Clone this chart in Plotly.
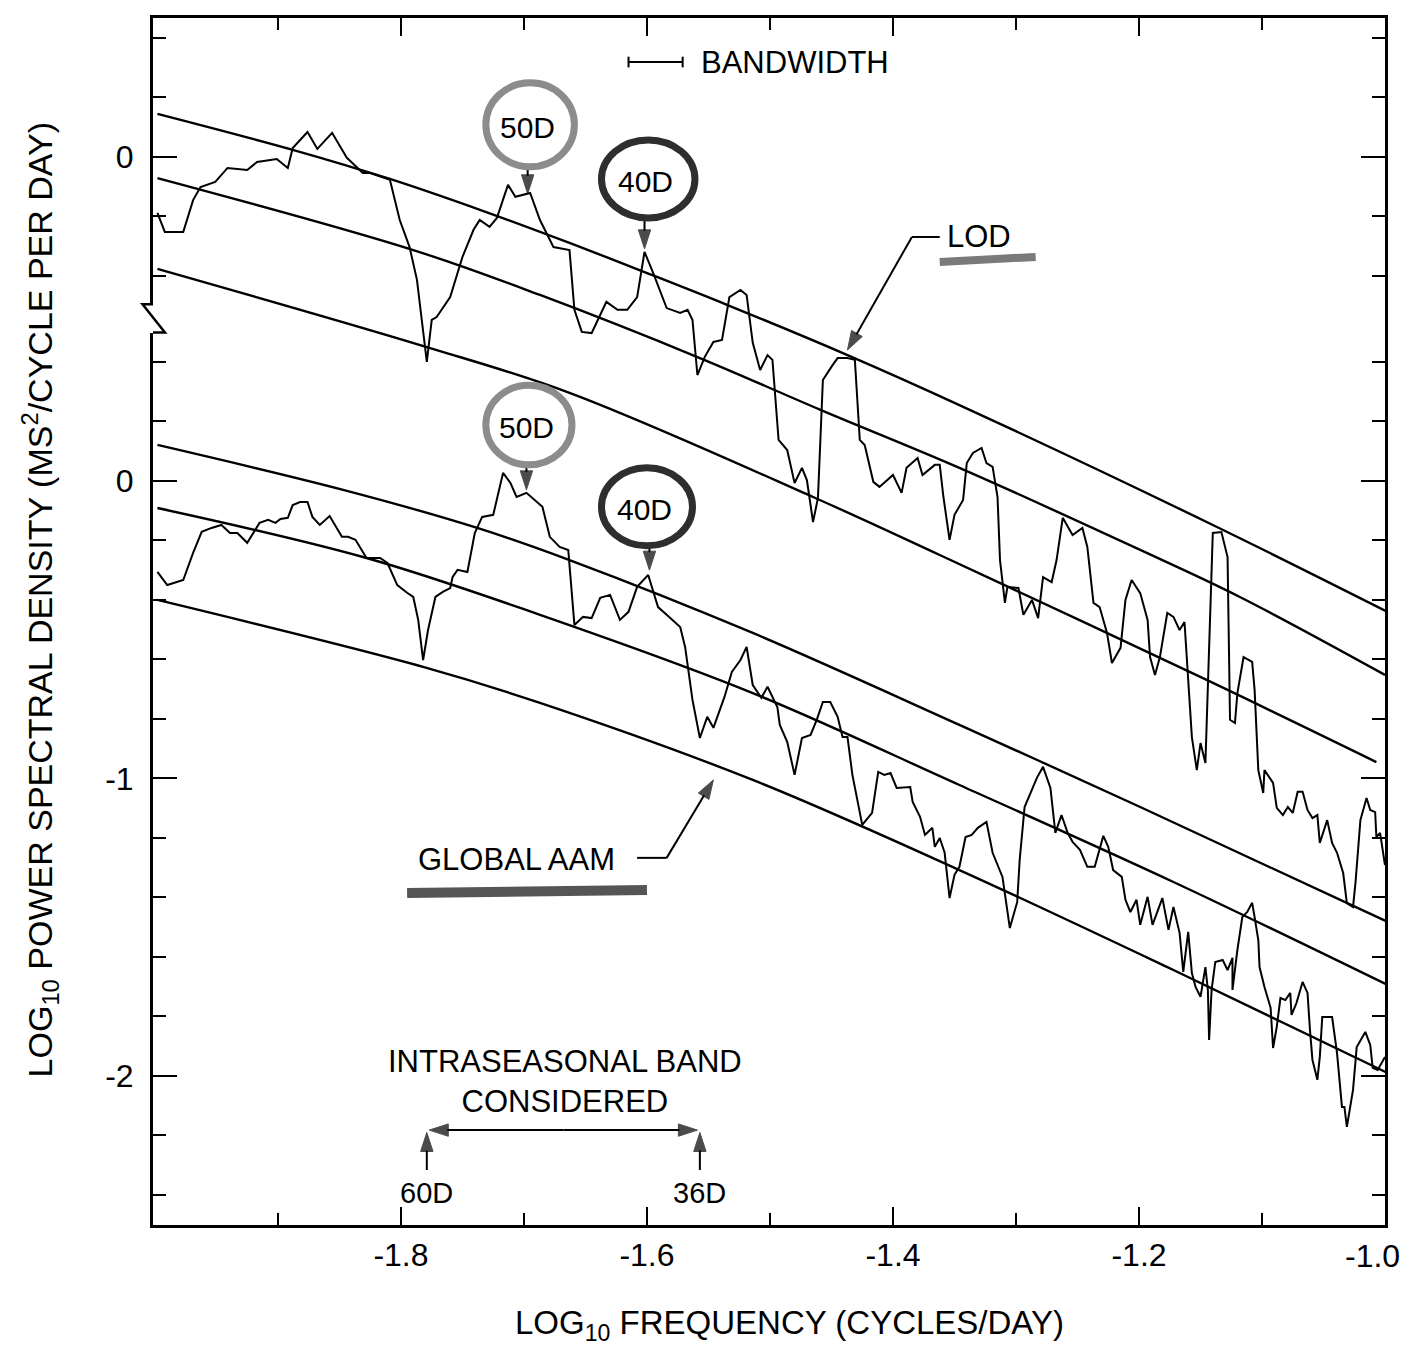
import plotly.graph_objects as go

# vertical offset of the upper (LOD) panel, expressed in lower-axis (AAM) units
LOD_OFFSET = 1.089

# ---------------- LOD spectrum (upper panel, its own log10 units) ----------------
LOD_FREQ = [-1.998, -1.992, -1.977, -1.969, -1.963, -1.951, -1.941, -1.925, -1.917, -1.901,
            -1.892, -1.888, -1.876, -1.868, -1.856, -1.844, -1.831, -1.825, -1.809, -1.801,
            -1.793, -1.787, -1.779, -1.775, -1.771, -1.760, -1.750, -1.741, -1.736, -1.728,
            -1.722, -1.713, -1.707, -1.695, -1.687, -1.679, -1.676, -1.663, -1.659, -1.653,
            -1.645, -1.640, -1.633, -1.624, -1.616, -1.608, -1.602, -1.595, -1.584, -1.573,
            -1.567, -1.563, -1.559, -1.553, -1.546, -1.539, -1.533, -1.524, -1.519, -1.514,
            -1.508, -1.502, -1.498, -1.493, -1.486, -1.480, -1.474, -1.470, -1.465, -1.461,
            -1.457, -1.449, -1.445, -1.437, -1.431, -1.427, -1.423, -1.416, -1.411, -1.400,
            -1.393, -1.389, -1.380, -1.376, -1.366, -1.362, -1.359, -1.354, -1.350, -1.343,
            -1.340, -1.335, -1.328, -1.324, -1.319, -1.315, -1.313, -1.309, -1.307, -1.298,
            -1.294, -1.287, -1.282, -1.278, -1.271, -1.267, -1.262, -1.254, -1.246, -1.242,
            -1.237, -1.232, -1.226, -1.222, -1.215, -1.211, -1.206, -1.199, -1.193, -1.191,
            -1.187, -1.183, -1.177, -1.172, -1.167, -1.163, -1.160, -1.157, -1.153, -1.150,
            -1.146, -1.142, -1.140, -1.133, -1.128, -1.126, -1.122, -1.120, -1.115, -1.108,
            -1.106, -1.103, -1.099, -1.098, -1.091, -1.088, -1.083, -1.079, -1.075, -1.071,
            -1.067, -1.063, -1.059, -1.055, -1.053, -1.047, -1.043, -1.039, -1.034, -1.031,
            -1.026, -1.024, -1.020, -1.015, -1.012, -1.008, -1.007, -1.004, -1.000]
LOD_PSD = [-0.188, -0.252, -0.252, -0.145, -0.101, -0.084, -0.037, -0.044, -0.017, -0.007,
           -0.037, 0.030, 0.084, 0.027, 0.081, -0.003, -0.054, -0.054, -0.077, -0.212,
           -0.303, -0.413, -0.689, -0.548, -0.538, -0.471, -0.336, -0.245, -0.212, -0.235,
           -0.205, -0.094, -0.134, -0.121, -0.212, -0.279, -0.303, -0.313, -0.514, -0.588,
           -0.592, -0.548, -0.487, -0.514, -0.514, -0.471, -0.319, -0.390, -0.508, -0.524,
           -0.514, -0.548, -0.733, -0.672, -0.622, -0.615, -0.471, -0.447, -0.464, -0.625,
           -0.716, -0.666, -0.682, -0.951, -0.985, -1.096, -1.045, -1.086, -1.227, -1.146,
           -0.750, -0.699, -0.676, -0.676, -0.682, -0.951, -0.968, -1.092, -1.109, -1.069,
           -1.129, -1.045, -1.012, -1.069, -1.035, -1.035, -1.143, -1.287, -1.203, -1.153,
           -1.029, -0.995, -0.978, -1.029, -1.042, -1.143, -1.355, -1.499, -1.445, -1.449,
           -1.539, -1.489, -1.550, -1.412, -1.429, -1.355, -1.213, -1.271, -1.247, -1.311,
           -1.499, -1.513, -1.600, -1.701, -1.650, -1.489, -1.422, -1.466, -1.556, -1.681,
           -1.741, -1.681, -1.533, -1.546, -1.590, -1.563, -1.748, -1.950, -2.061, -1.970,
           -2.037, -1.489, -1.264, -1.261, -1.345, -1.892, -1.903, -1.802, -1.681, -1.697,
           -1.792, -2.061, -2.138, -2.061, -2.104, -2.188, -2.212, -2.185, -2.205, -2.134,
           -2.134, -2.195, -2.222, -2.212, -2.306, -2.229, -2.306, -2.339, -2.407, -2.508,
           -2.521, -2.440, -2.229, -2.155, -2.195, -2.202, -2.286, -2.272, -2.380]

# reference curves for LOD (upper-panel units)
LOD_TOP_FREQ = [-1.998, -1.888, -1.809, -1.733, -1.663, -1.602, -1.535, -1.437, -1.346, -1.140, -0.998]
LOD_TOP_PSD = [0.145, 0.024, -0.074, -0.182, -0.289, -0.387, -0.497, -0.666, -0.834, -1.237, -1.529]
LOD_MID_FREQ = [-1.998, -1.790, -1.687, -1.557, -1.459, -1.346, -1.199, -1.118, -1.000]
LOD_MID_PSD = [-0.071, -0.313, -0.464, -0.676, -0.850, -1.045, -1.321, -1.479, -1.741]
LOD_LOW_FREQ = [-1.998, -1.779, -1.663, -1.465, -1.362, -1.145, -1.007]
LOD_LOW_PSD = [-0.376, -0.639, -0.793, -1.143, -1.338, -1.758, -2.034]

# ---------------- Global AAM spectrum (lower panel) ----------------
AAM_FREQ = [-1.998, -1.990, -1.977, -1.969, -1.962, -1.954, -1.946, -1.939, -1.933, -1.925,
            -1.915, -1.908, -1.902, -1.898, -1.892, -1.888, -1.882, -1.876, -1.872, -1.866,
            -1.858, -1.848, -1.843, -1.837, -1.828, -1.817, -1.811, -1.803, -1.795, -1.790,
            -1.786, -1.782, -1.778, -1.772, -1.766, -1.760, -1.758, -1.754, -1.746, -1.740,
            -1.734, -1.725, -1.717, -1.711, -1.706, -1.698, -1.685, -1.679, -1.671, -1.664,
            -1.659, -1.652, -1.645, -1.638, -1.630, -1.622, -1.615, -1.608, -1.599, -1.591,
            -1.584, -1.573, -1.569, -1.563, -1.557, -1.551, -1.546, -1.537, -1.531, -1.524,
            -1.519, -1.514, -1.507, -1.502, -1.494, -1.492, -1.486, -1.480, -1.474, -1.467,
            -1.462, -1.457, -1.451, -1.445, -1.441, -1.437, -1.433, -1.425, -1.417, -1.412,
            -1.407, -1.402, -1.397, -1.386, -1.384, -1.378, -1.374, -1.368, -1.366, -1.362,
            -1.358, -1.354, -1.350, -1.346, -1.341, -1.336, -1.331, -1.324, -1.319, -1.311,
            -1.305, -1.299, -1.297, -1.293, -1.283, -1.278, -1.272, -1.268, -1.263, -1.258,
            -1.254, -1.248, -1.242, -1.236, -1.229, -1.225, -1.221, -1.214, -1.211, -1.207,
            -1.202, -1.199, -1.193, -1.189, -1.181, -1.176, -1.172, -1.167, -1.164, -1.160,
            -1.157, -1.154, -1.150, -1.146, -1.144, -1.143, -1.141, -1.138, -1.132, -1.128,
            -1.124, -1.124, -1.120, -1.116, -1.112, -1.108, -1.106, -1.103, -1.102, -1.098,
            -1.093, -1.091, -1.088, -1.085, -1.081, -1.077, -1.076, -1.072, -1.067, -1.063,
            -1.061, -1.059, -1.055, -1.053, -1.051, -1.043, -1.039, -1.035, -1.033, -1.031,
            -1.026, -1.023, -1.016, -1.012, -1.010, -1.006, -1.000]
AAM_PSD = [-0.306, -0.350, -0.333, -0.242, -0.171, -0.158, -0.148, -0.175, -0.175, -0.208,
           -0.141, -0.131, -0.141, -0.128, -0.124, -0.081, -0.071, -0.071, -0.121, -0.148,
           -0.118, -0.188, -0.188, -0.198, -0.259, -0.259, -0.276, -0.350, -0.376, -0.390,
           -0.467, -0.602, -0.501, -0.390, -0.373, -0.360, -0.323, -0.299, -0.306, -0.175,
           -0.121, -0.114, 0.027, -0.007, -0.054, -0.040, -0.087, -0.188, -0.222, -0.232,
           -0.484, -0.457, -0.461, -0.393, -0.383, -0.467, -0.440, -0.356, -0.316, -0.424,
           -0.450, -0.491, -0.558, -0.736, -0.864, -0.793, -0.830, -0.726, -0.642, -0.602,
           -0.558, -0.686, -0.729, -0.692, -0.760, -0.820, -0.877, -0.988, -0.864, -0.854,
           -0.803, -0.743, -0.743, -0.793, -0.861, -0.861, -0.988, -1.156, -1.116, -0.978,
           -0.988, -0.982, -1.032, -1.029, -1.079, -1.129, -1.190, -1.166, -1.230, -1.200,
           -1.250, -1.402, -1.324, -1.297, -1.197, -1.190, -1.166, -1.146, -1.250, -1.331,
           -1.503, -1.415, -1.274, -1.096, -0.998, -0.961, -1.032, -1.183, -1.123, -1.183,
           -1.213, -1.240, -1.297, -1.297, -1.193, -1.230, -1.308, -1.331, -1.408, -1.449,
           -1.408, -1.492, -1.398, -1.492, -1.402, -1.509, -1.432, -1.519, -1.650, -1.516,
           -1.654, -1.701, -1.734, -1.634, -1.711, -1.879, -1.711, -1.617, -1.610, -1.644,
           -1.603, -1.711, -1.576, -1.466, -1.449, -1.418, -1.466, -1.543, -1.634, -1.701,
           -1.771, -1.906, -1.835, -1.738, -1.745, -1.721, -1.795, -1.755, -1.684, -1.721,
           -1.845, -1.946, -2.013, -1.936, -1.802, -1.802, -1.923, -2.104, -2.104, -2.171,
           -2.047, -1.903, -1.852, -1.896, -1.973, -1.980, -1.936]

# reference curves for AAM (lower-panel units)
AAM_TOP_FREQ = [-1.998, -1.847, -1.738, -1.663, -1.514, -1.346, -1.199, -0.998]
AAM_TOP_PSD = [0.121, -0.030, -0.158, -0.266, -0.511, -0.820, -1.096, -1.482]
AAM_MID_FREQ = [-1.998, -1.828, -1.687, -1.514, -1.346, -1.172, -0.998]
AAM_MID_PSD = [-0.091, -0.259, -0.450, -0.713, -1.022, -1.348, -1.694]
AAM_LOW_FREQ = [-1.998, -1.782, -1.687, -1.514, -1.346, -1.172, -0.998]
AAM_LOW_PSD = [-0.400, -0.625, -0.746, -1.005, -1.308, -1.644, -1.990]

X_TICKS = [-1.8, -1.6, -1.4, -1.2, -1.0]
X_TICK_TEXT = ["-1.8", "-1.6", "-1.4", "-1.2", "-1.0"]
X_MINOR = [-1.9, -1.7, -1.5, -1.3, -1.1]
Y_TICK_TEXT = ["0", "0", "-1", "-2"]

FONT = "Liberation Sans, Arial, Helvetica, sans-serif"
FS = 31          # annotation text
FS_TICK = 32     # tick labels
FS_TITLE = 33    # axis titles

fig = go.Figure()


def add_line(x, y, width, spline=False):
    line = dict(color="black", width=width)
    if spline:
        line.update(shape="spline", smoothing=1.0)
    fig.add_trace(go.Scatter(x=x, y=y, mode="lines", line=line,
                             hoverinfo="skip", showlegend=False))


def add_arrow(x0, y0, x1, y1, size=20):
    """straight arrow from (x0, y0) to the tip (x1, y1), drawn as a line with an arrow marker"""
    fig.add_trace(go.Scatter(x=[x0, x1], y=[y0, y1], mode="lines+markers",
                             line=dict(color="black", width=2),
                             marker=dict(symbol="arrow", size=[0, size], angleref="previous",
                                         color="black", line=dict(width=1, color="black")),
                             hoverinfo="skip", showlegend=False))


for fx, fy in [(LOD_TOP_FREQ, LOD_TOP_PSD), (LOD_MID_FREQ, LOD_MID_PSD), (LOD_LOW_FREQ, LOD_LOW_PSD)]:
    add_line(fx, [v + LOD_OFFSET for v in fy], 2.4, True)
for fx, fy in [(AAM_TOP_FREQ, AAM_TOP_PSD), (AAM_MID_FREQ, AAM_MID_PSD), (AAM_LOW_FREQ, AAM_LOW_PSD)]:
    add_line(fx, fy, 2.4, True)
add_line(LOD_FREQ, [v + LOD_OFFSET for v in LOD_PSD], 2.0)
add_line(AAM_FREQ, AAM_PSD, 2.0)

y_ticks = [LOD_OFFSET, 0, -1, -2]
y_minor = [LOD_OFFSET + d for d in (0.4, 0.2, -0.2, -0.4)] + \
          [0.4, 0.2, -0.2, -0.4, -0.6, -0.8, -1.2, -1.4, -1.6, -1.8, -2.2, -2.4]

axis_common = dict(showline=True, linecolor="black", linewidth=3, mirror="ticks",
                   ticks="inside", tickcolor="black", tickwidth=2, showgrid=False,
                   zeroline=False, tickfont=dict(family=FONT, size=FS_TICK, color="black"))

# the last x label sits against the page edge, so it is drawn as an annotation (below)
x_tick_text_axis = X_TICK_TEXT[:-1] + [""]

fig.update_layout(
    width=1410, height=1352,
    margin=dict(l=153, r=25, t=18, b=127),
    paper_bgcolor="white", plot_bgcolor="white",
    font=dict(family=FONT, size=FS, color="black"),
    xaxis=dict(range=[-2.0016, -1.0], tickmode="array", tickvals=X_TICKS, ticktext=x_tick_text_axis,
               ticklen=18, ticklabelstandoff=0,
               minor=dict(tickmode="array", tickvals=X_MINOR, ticks="inside", ticklen=12,
                          tickwidth=2, tickcolor="black"),
               **axis_common),
    yaxis=dict(range=[-2.501, 1.556], tickmode="array", tickvals=y_ticks, ticktext=Y_TICK_TEXT,
               ticklen=24, ticklabelstandoff=10,
               minor=dict(tickmode="array", tickvals=y_minor, ticks="inside", ticklen=13,
                          tickwidth=2, tickcolor="black"),
               **axis_common),
)

shapes = []
annotations = []

annotations.append(dict(x=X_TICKS[-1], y=-0.0257, xref="x", yref="paper", text=X_TICK_TEXT[-1],
                        showarrow=False, xanchor="center", yanchor="middle", xshift=-13,
                        font=dict(size=FS_TICK)))

# axis break on the left axis
shapes.append(dict(type="rect", xref="paper", yref="y", x0=-0.007, x1=0.006, y0=0.497, y1=0.596,
                   fillcolor="white", line=dict(width=0), layer="above"))
shapes.append(dict(type="path", xref="paper", yref="y",
                   path="M 0,0.594 L -0.0085,0.594 L 0.0097,0.499 L 0,0.499",
                   line=dict(color="black", width=2.5), layer="above"))

# bandwidth bar
shapes.append(dict(type="line", xref="x", yref="y", x0=-1.615, x1=-1.571, y0=1.408, y1=1.408,
                   line=dict(color="black", width=2)))
for bx in (-1.615, -1.571):
    shapes.append(dict(type="line", xref="x", yref="y", x0=bx, x1=bx, y0=1.39, y1=1.426,
                       line=dict(color="black", width=2)))
annotations.append(dict(x=-1.558, y=1.408, xref="x", yref="y", text="BANDWIDTH",
                        showarrow=False, xanchor="left", yanchor="middle", font=dict(size=FS)))


def circled(label, cx, cy, rx, ry, color, tip_y, tail_y, ax_x):
    shapes.append(dict(type="circle", xref="x", yref="y", x0=cx - rx, x1=cx + rx,
                       y0=cy - ry, y1=cy + ry, line=dict(color=color, width=7)))
    annotations.append(dict(x=cx - 0.002, y=cy - 0.01, xref="x", yref="y", text=label,
                            showarrow=False, font=dict(size=FS - 1)))
    add_arrow(ax_x, tail_y, ax_x, tip_y, 20)


GRAY = "#8c8c8c"
DARK = "#2e2e2e"
circled("50D", -1.695, 1.197, 0.036, 0.141, GRAY, 0.965, 1.06, -1.697)
circled("40D", -1.599, 1.015, 0.038, 0.131, DARK, 0.78, 0.884, -1.602)
circled("50D", -1.696, 0.188, 0.035, 0.134, GRAY, -0.03, 0.06, -1.698)
circled("40D", -1.600, -0.087, 0.037, 0.131, DARK, -0.30, -0.21, -1.598)

# LOD label
annotations.append(dict(x=-1.358, y=0.820, xref="x", yref="y", text="LOD", showarrow=False,
                        xanchor="left", yanchor="middle", font=dict(size=FS)))
shapes.append(dict(type="line", xref="x", yref="y", x0=-1.3846, x1=-1.362, y0=0.820, y1=0.820,
                   line=dict(color="black", width=2)))
add_arrow(-1.3846, 0.820, -1.437, 0.44, 20)
shapes.append(dict(type="line", xref="x", yref="y", x0=-1.362, x1=-1.284, y0=0.736, y1=0.753,
                   line=dict(color="#7a7a7a", width=8)))

# GLOBAL AAM label
annotations.append(dict(x=-1.706, y=-1.274, xref="x", yref="y", text="GLOBAL AAM",
                        showarrow=False, font=dict(size=FS)))
shapes.append(dict(type="line", xref="x", yref="y", x0=-1.608, x1=-1.584, y0=-1.267, y1=-1.267,
                   line=dict(color="black", width=2)))
add_arrow(-1.584, -1.267, -1.546, -1.005, 20)
shapes.append(dict(type="line", xref="x", yref="y", x0=-1.795, x1=-1.600, y0=-1.385, y1=-1.375,
                   line=dict(color="#555555", width=10)))

# intraseasonal band
annotations.append(dict(x=-1.667, y=-2.018, xref="x", yref="y",
                        text="INTRASEASONAL BAND<br>CONSIDERED", showarrow=False,
                        font=dict(size=FS)))
add_arrow(-1.668, -2.182, -1.777, -2.182, 20)
add_arrow(-1.668, -2.182, -1.559, -2.182, 20)
for bx, lab in ((-1.779, "60D"), (-1.557, "36D")):
    add_arrow(bx, -2.316, bx, -2.19, 20)
    annotations.append(dict(x=bx, y=-2.393, xref="x", yref="y", text=lab, showarrow=False,
                            font=dict(size=FS - 2)))

# axis titles
annotations.append(dict(x=0.517, y=-0.083, xref="paper", yref="paper",
                        text="LOG<sub>10</sub> FREQUENCY (CYCLES/DAY)", showarrow=False,
                        xanchor="center", yanchor="middle", font=dict(size=FS_TITLE)))
annotations.append(dict(x=-0.092, y=0.518, xref="paper", yref="paper", textangle=-90,
                        text="LOG<sub>10</sub> POWER SPECTRAL DENSITY (MS<sup>2</sup>/CYCLE PER DAY)",
                        showarrow=False, xanchor="center", yanchor="middle",
                        font=dict(size=FS_TITLE + 1)))

fig.update_layout(shapes=shapes, annotations=annotations)
fig.write_html("out.html")
